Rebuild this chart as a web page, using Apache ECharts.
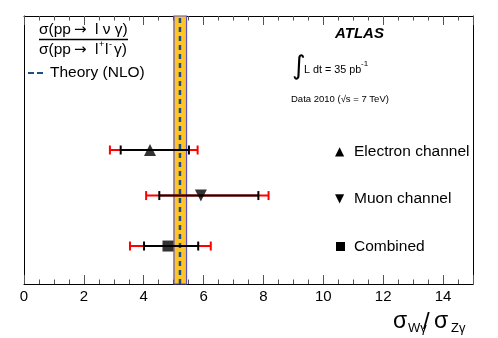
<!DOCTYPE html>
<html><head><meta charset="utf-8">
<script src="https://cdn.jsdelivr.net/npm/echarts@6/dist/echarts.min.js"></script>
<style>html,body{margin:0;padding:0;background:#fff}
#wrap{position:relative;width:498px;height:338px}
#c,#t{position:absolute;left:0;top:0;width:498px;height:338px}
#t{pointer-events:none}</style>
</head><body><div id="wrap"><div id="c"></div><div id="t"></div></div>
<script>
// data
const channels = ['Electron channel', 'Muon channel', 'Combined'];
const yPos = [3.0, 1.98, 0.85];
const central = [4.21, 5.91, 4.81];
const statLow = [3.23, 4.52, 4.01];
const statHigh = [5.51, 7.83, 5.82];
const totLow = [2.87, 4.08, 3.54];
const totHigh = [5.80, 8.17, 6.24];
const markers = ['triangle', 'triangle', 'rect'];
const markerRot = [0, 180, 0];
const theory = 5.21;
const theoryLow = 5.01;
const theoryHigh = 5.43;
const xMin = 0, xMax = 15, yMin = 0, yMax = 6;

const FONT = '"Liberation Sans", Arial, sans-serif';
const DJ = '"DejaVu Sans", sans-serif';
const GRID = { left: 24, right: 25, top: 16, bottom: 54 };

function errItem(params, api, lowArr, highArr, color, capH) {
  const i = params.dataIndex;
  const p1 = api.coord([lowArr[i], yPos[i]]);
  const p2 = api.coord([highArr[i], yPos[i]]);
  const st = { stroke: color, lineWidth: 2 };
  return { type: 'group', children: [
    { type: 'line', shape: { x1: p1[0], y1: p1[1], x2: p2[0], y2: p2[1] }, style: st },
    { type: 'line', shape: { x1: p1[0], y1: p1[1] - capH, x2: p1[0], y2: p1[1] + capH }, style: st },
    { type: 'line', shape: { x1: p2[0], y1: p2[1] - capH, x2: p2[0], y2: p2[1] + capH }, style: st }
  ]};
}

function T(x, y, text, fs, family, extra) {
  return { left: x, top: y - fs / 2, padding: 0, text: text,
    textStyle: Object.assign({ fontSize: fs, fontFamily: family || FONT, color: '#000',
      fontWeight: 'normal', lineHeight: fs }, extra || {}) };
}

function decoItem() {
  return { type: 'group', children: [
    { type: 'line', shape: { x1: 39, y1: 39.5, x2: 128, y2: 39.5 }, style: { stroke: '#000', lineWidth: 1.3 } },
    { type: 'line', shape: { x1: 28, y1: 73, x2: 34, y2: 73 }, style: { stroke: '#1d4f86', lineWidth: 2 } },
    { type: 'line', shape: { x1: 37, y1: 73, x2: 43, y2: 73 }, style: { stroke: '#1d4f86', lineWidth: 2 } },
    { type: 'rect', shape: { x: 336, y: 242, width: 9, height: 9 }, style: { fill: '#000' } }
  ]};
}

// main chart
const chart = echarts.init(document.getElementById('c'));
chart.setOption({
  animation: false,
  grid: GRID,
  title: [
    T(39, 30, 'σ(pp', 15.5), T(74, 30, '→', 15, DJ), T(95, 30, 'l ν γ)', 15.5),
    T(39, 50, 'σ(pp', 15.5), T(74, 50, '→', 15, DJ), T(95, 50, 'l', 15.5), T(99, 45, '+', 9),
    T(105, 50, 'l', 15.5), T(109, 45, '-', 9), T(114, 50, 'γ)', 15.5),
    T(50, 73, 'Theory (NLO)', 15.5),
    T(335, 34, 'ATLAS', 15, FONT, { fontStyle: 'italic', fontWeight: 'bold' }),
    T(292, 67, '∫', 26, DJ),
    T(304, 70, 'L dt = 35 pb', 10.8), T(361, 64, '-1', 8),
    T(291, 99, 'Data 2010 (√s = 7 TeV)', 9.5),
    T(335, 152, '▲', 12, DJ), T(354, 152, channels[0], 15.5),
    T(335, 199, '▼', 12, DJ), T(354, 199, channels[1], 15.5),
    T(354, 247, channels[2], 15.5),
    T(393, 322, 'σ', 23), T(408, 328, 'Wγ', 13), T(423, 322, '/', 24),
    T(434, 322, 'σ', 23), T(451, 328, 'Zγ', 13)
  ],
  xAxis: [
    { type: 'value', min: xMin, max: xMax, interval: 2, position: 'bottom',
      axisLine: { show: true, onZero: false, lineStyle: { color: '#000' } },
      axisTick: { show: false }, splitLine: { show: false },
      axisLabel: { fontSize: 15, color: '#000', fontFamily: FONT, margin: 5, showMaxLabel: false } },
    { type: 'value', min: xMin, max: xMax, interval: 2, position: 'top',
      axisLine: { show: true, onZero: false, lineStyle: { color: '#000' } },
      axisTick: { show: false }, splitLine: { show: false }, axisLabel: { show: false } }
  ],
  yAxis: [
    { type: 'value', min: yMin, max: yMax, position: 'left',
      axisLine: { show: true, onZero: false, lineStyle: { color: '#000' } },
      axisTick: { show: false }, axisLabel: { show: false }, splitLine: { show: false } },
    { type: 'value', min: yMin, max: yMax, position: 'right',
      axisLine: { show: true, onZero: false, lineStyle: { color: '#000' } },
      axisTick: { show: false }, axisLabel: { show: false }, splitLine: { show: false } }
  ],
  series: [
    { type: 'line', xAxisIndex: 0, yAxisIndex: 0, data: [], silent: true,
      markArea: { silent: true, itemStyle: { color: '#ffc526', borderColor: '#5a4fc8', borderWidth: 1.2 },
        data: [[{ xAxis: theoryLow }, { xAxis: theoryHigh }]] } },
    { type: 'line', xAxisIndex: 0, yAxisIndex: 0, data: [[theory, yMin], [theory, yMax]], symbol: 'none',
      lineStyle: { color: '#1d4f86', width: 2.5, type: [5, 4] }, z: 3 },
    { type: 'custom', xAxisIndex: 0, yAxisIndex: 0, data: channels.map((c, i) => [totLow[i], yPos[i]]), z: 4,
      renderItem: (p, api) => errItem(p, api, totLow, totHigh, '#ff0000', 4.5) },
    { type: 'custom', xAxisIndex: 0, yAxisIndex: 0, data: channels.map((c, i) => [statLow[i], yPos[i]]), z: 5,
      renderItem: (p, api) => errItem(p, api, statLow, statHigh, '#000000', 4.5) },
    { type: 'scatter', xAxisIndex: 0, yAxisIndex: 0, z: 6,
      data: channels.map((c, i) => ({ value: [central[i], yPos[i]], symbol: markers[i],
        symbolRotate: markerRot[i], symbolSize: markers[i] === 'rect' ? 11 : 12 })),
      itemStyle: { color: '#000' } },
    { type: 'custom', coordinateSystem: 'none', data: [[0]], silent: true, z: 8, renderItem: decoItem }
  ]
});

// overlay chart with the same axes: draws only the inward major/minor ticks
const tickChart = echarts.init(document.getElementById('t'));
function tickAxis(pos) {
  return { type: 'value', min: xMin, max: xMax, interval: 2, position: pos,
    axisLine: { show: false, onZero: false },
    axisTick: { show: true, inside: true, length: 9 },
    minorTick: { show: true, splitNumber: 4, length: 4.5 },
    splitLine: { show: false }, axisLabel: { show: false } };
}
tickChart.setOption({
  animation: false,
  grid: GRID,
  xAxis: [tickAxis('bottom'), tickAxis('top')],
  yAxis: { type: 'value', min: yMin, max: yMax, show: false },
  series: [{ type: 'scatter', data: [] }]
});
</script></body></html>
